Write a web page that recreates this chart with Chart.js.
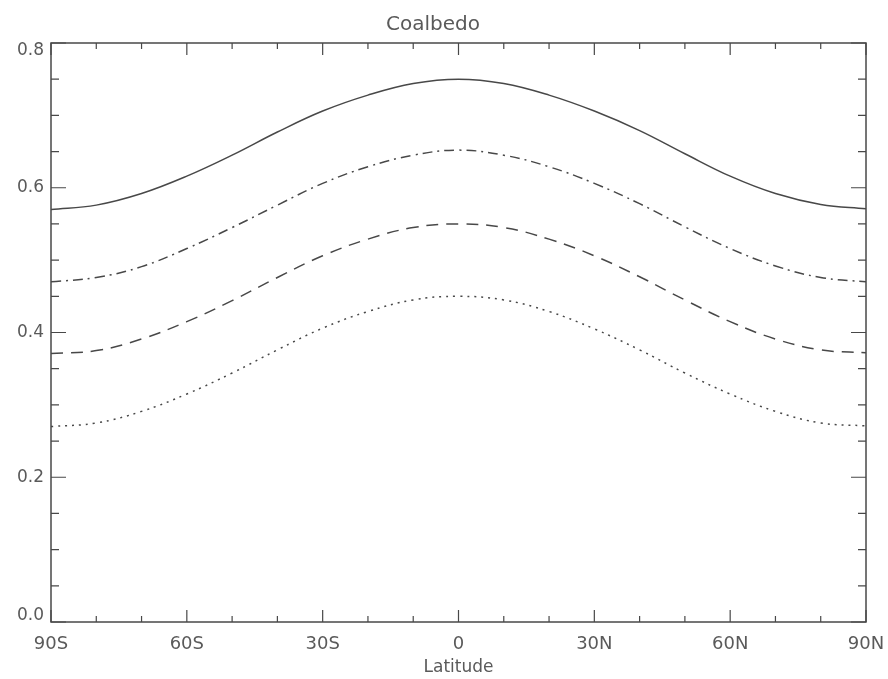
<!DOCTYPE html>
<html lang="en">

<head>
  <meta charset="UTF-8">
  <title>Coalbedo</title>
  <script src="https://cdn.jsdelivr.net/npm/chart.js"></script>
  <style>
    body { margin: 0; background: #fff; }
    #caixa { position: relative; width: 888px; height: 679px; }
  </style>
</head>

<body>
  <div id="caixa">
    <canvas id="grafico"></canvas>
  </div>

<script>
  // latitudes (graus, S negativo)
  const latitudes = [-90, -80, -70, -60, -50, -40, -30, -20, -10, 0, 10, 20, 30, 40, 50, 60, 70, 80, 90];

  // curvas
  const solida = [0.570, 0.576, 0.592, 0.616, 0.645, 0.677, 0.706, 0.728, 0.744, 0.750, 0.744, 0.728, 0.706, 0.679, 0.647, 0.616, 0.592, 0.577, 0.571];
  const tracoPonto = [0.470, 0.476, 0.491, 0.516, 0.545, 0.576, 0.606, 0.629, 0.645, 0.652, 0.645, 0.629, 0.606, 0.578, 0.546, 0.516, 0.492, 0.476, 0.470];
  const tracejada = [0.371, 0.375, 0.391, 0.415, 0.444, 0.476, 0.506, 0.529, 0.545, 0.550, 0.545, 0.529, 0.506, 0.477, 0.445, 0.415, 0.391, 0.376, 0.372];
  const pontilhada = [0.270, 0.275, 0.291, 0.315, 0.344, 0.376, 0.406, 0.429, 0.445, 0.450, 0.445, 0.429, 0.405, 0.376, 0.344, 0.315, 0.291, 0.275, 0.271];

  // ticks
  const xTicks = [-90, -60, -30, 0, 30, 60, 90];
  const xLabels = ['90S', '60S', '30S', '0', '30N', '60N', '90N'];
  const xMinor = [-80, -70, -50, -40, -20, -10, 10, 20, 40, 50, 70, 80];
  const yTicks = [0, 0.2, 0.4, 0.6, 0.8];
  const yLabels = ['0.0', '0.2', '0.4', '0.6', '0.8'];
  const yMinor = [0.05, 0.1, 0.15, 0.25, 0.3, 0.35, 0.45, 0.5, 0.55, 0.65, 0.7, 0.75];

  const fonte = 'DejaVu Sans';
  const corTexto = '#5a5a5a';
  const corLinha = '#484848';

  function pontos(valores) {
    return latitudes.map((lat, i) => ({ x: lat, y: valores[i] }));
  }

  function serie(valores, dash) {
    return {
      data: pontos(valores),
      borderColor: corLinha,
      borderWidth: 1.5,
      borderDash: dash,
      pointRadius: 0,
      fill: false,
      tension: 0.4
    };
  }

  // moldura com ticks para dentro nos 4 lados (estilo IDL) + rotulos do eixo y
  const moldura = {
    id: 'moldura',
    afterDraw(chart) {
      const ctx = chart.ctx;
      const a = chart.chartArea;
      const sx = chart.scales.x;
      const sy = chart.scales.y;
      ctx.save();
      ctx.strokeStyle = corLinha;
      ctx.lineWidth = 1.5;
      ctx.strokeRect(a.left, a.top, a.right - a.left, a.bottom - a.top);

      ctx.lineWidth = 1.2;
      ctx.beginPath();
      xTicks.forEach(v => {
        const px = sx.getPixelForValue(v);
        ctx.moveTo(px, a.bottom); ctx.lineTo(px, a.bottom - 12);
        ctx.moveTo(px, a.top); ctx.lineTo(px, a.top + 12);
      });
      xMinor.forEach(v => {
        const px = sx.getPixelForValue(v);
        ctx.moveTo(px, a.bottom); ctx.lineTo(px, a.bottom - 6);
        ctx.moveTo(px, a.top); ctx.lineTo(px, a.top + 6);
      });
      yTicks.forEach(v => {
        const py = sy.getPixelForValue(v);
        ctx.moveTo(a.left, py); ctx.lineTo(a.left + 15, py);
        ctx.moveTo(a.right, py); ctx.lineTo(a.right - 15, py);
      });
      yMinor.forEach(v => {
        const py = sy.getPixelForValue(v);
        ctx.moveTo(a.left, py); ctx.lineTo(a.left + 8, py);
        ctx.moveTo(a.right, py); ctx.lineTo(a.right - 8, py);
      });
      ctx.stroke();

      // rotulos do eixo y (0.0 e 0.8 ficam dentro da moldura, como no original)
      ctx.fillStyle = corTexto;
      ctx.font = '17px "' + fonte + '"';
      ctx.textAlign = 'right';
      ctx.textBaseline = 'middle';
      yTicks.forEach((v, i) => {
        let py = sy.getPixelForValue(v);
        py = Math.min(Math.max(py, a.top + 8), a.bottom - 6);
        ctx.fillText(yLabels[i], a.left - 7, py);
      });
      ctx.restore();
    }
  };

  const config = {
    type: 'line',
    data: {
      datasets: [
        serie(solida, []),
        serie(tracoPonto, [10, 5, 2, 5]),
        serie(tracejada, [12, 8]),
        serie(pontilhada, [2, 5])
      ]
    },
    options: {
      responsive: true,
      maintainAspectRatio: false,
      animation: false,
      layout: { padding: { left: 0, right: 22, top: 0, bottom: 0 } },
      plugins: {
        legend: { display: false },
        tooltip: { enabled: false },
        title: {
          display: true,
          text: 'Coalbedo',
          color: corTexto,
          font: { family: fonte, size: 20, weight: 'normal' },
          padding: { top: 13, bottom: 6 }
        }
      },
      scales: {
        x: {
          type: 'linear',
          min: -90,
          max: 90,
          grid: { display: false, drawTicks: false },
          border: { display: false },
          afterBuildTicks: (scale) => {
            scale.ticks = xTicks.map(v => ({ value: v }));
          },
          afterFit: (scale) => {
            scale.height = 57;
            scale.paddingLeft = 0;
            scale.paddingRight = 0;
          },
          ticks: {
            color: corTexto,
            padding: 12,
            maxRotation: 0,
            autoSkip: false,
            font: { family: fonte, size: 18 },
            callback: (v) => xLabels[xTicks.indexOf(v)]
          },
          title: {
            display: true,
            text: 'Latitude',
            color: corTexto,
            font: { family: fonte, size: 17 },
            padding: { top: 0, bottom: 1 }
          }
        },
        y: {
          min: 0,
          max: 0.8,
          grid: { display: false, drawTicks: false },
          border: { display: false },
          ticks: { display: false, stepSize: 0.2 },
          afterFit: (scale) => { scale.width = 51; }
        }
      }
    },
    plugins: [moldura]
  };

  let myChart = new Chart(document.getElementById('grafico'), config);
</script>
</body>

</html>
